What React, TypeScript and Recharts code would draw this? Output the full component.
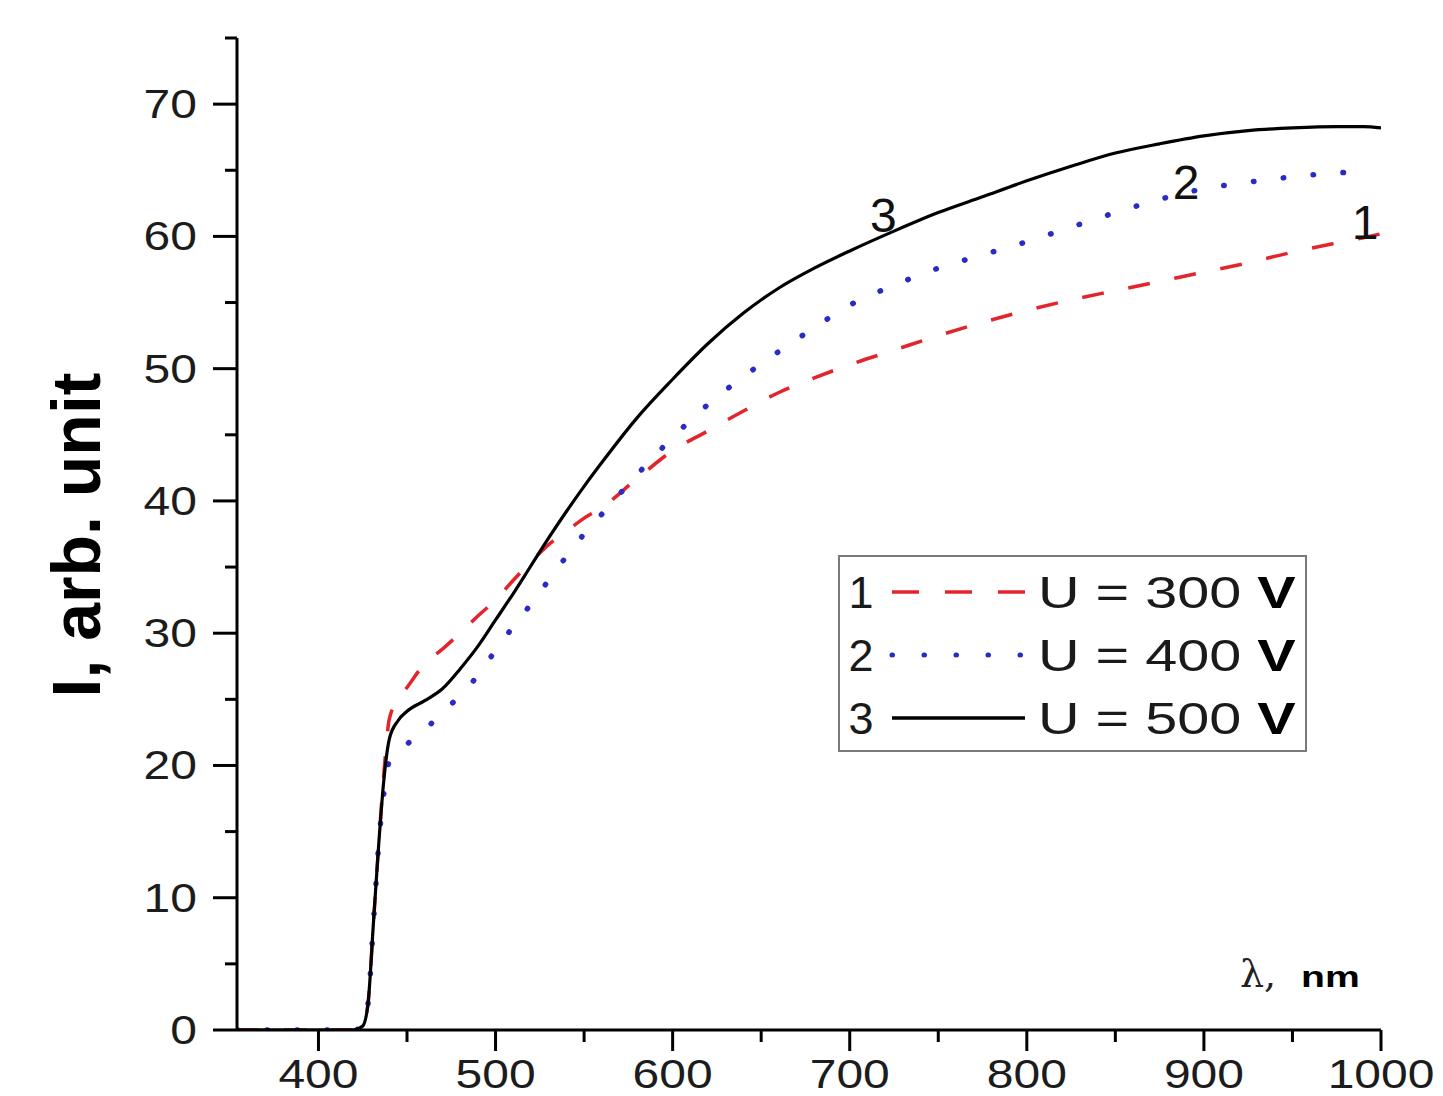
import React from 'react';
import { LineChart, Line, XAxis, YAxis, ReferenceDot } from 'recharts';

// ---- data ----
const wavelengths = [354, 380, 400, 420, 425, 428, 431, 434, 437, 440, 445, 450, 460, 470, 480, 490, 500, 510, 520, 530, 540, 550, 560, 580, 600, 620, 640, 660, 680, 700, 725, 750, 775, 800, 825, 850, 875, 900, 925, 950, 975, 990, 1000];

const series300V = [0, 0, 0, 0, 0.3, 2, 8, 14, 19.5, 23.5, 25, 25.9, 27.7, 28.8, 30, 31.3, 32.5, 34, 35.4, 36.7, 37.7, 38.7, 39.5, 41.7, 43.8, 45.3, 46.8, 48.2, 49.3, 50.3, 51.4, 52.5, 53.5, 54.4, 55.2, 55.9, 56.6, 57.3, 58, 58.8, 59.5, 59.9, 60.2];

const series400V = [0, 0, 0, 0, 0.3, 2, 8, 14, 18, 20.3, 20.9, 21.6, 22.7, 24, 25.3, 26.8, 28.7, 30.5, 32.2, 34, 35.8, 37.5, 39, 42, 44.8, 47.3, 49.4, 51.3, 53.1, 54.8, 56.3, 57.6, 58.6, 59.6, 60.7, 61.8, 62.8, 63.6, 64.1, 64.5, 64.8, 64.9, null];

const series500V = [0, 0, 0, 0, 0.3, 2, 8, 14, 19, 22, 23.4, 24.1, 24.9, 25.8, 27.3, 29, 31, 33, 35.1, 37.2, 39.2, 41.1, 42.9, 46.3, 49.2, 51.9, 54.2, 56.1, 57.6, 58.9, 60.4, 61.8, 63, 64.2, 65.3, 66.3, 67, 67.6, 68, 68.2, 68.3, 68.3, 68.2];

const xTicks = [400, 450, 500, 550, 600, 650, 700, 750, 800, 850, 900, 950, 1000];
const yTicks = [0, 5, 10, 15, 20, 25, 30, 35, 40, 45, 50, 55, 60, 65, 70, 75];

const seriesNumbers = ['1', '2', '3'];
const seriesVoltages = ['U = 300', 'U = 400', 'U = 500'];

// curve annotation labels (data coordinates)
const curveLabelText = ['1', '2', '3'];
const curveLabelX = [991, 890, 719];
const curveLabelY = [61.1, 64.1, 61.6];

const rows = wavelengths.map((w, i) => ({
  w,
  s1: series300V[i],
  s2: series400V[i],
  s3: series500V[i],
}));

const styles = [
  { key: 's1', stroke: '#e3242b', width: 3.5, dash: '22 25', legendDash: '27 26', cap: 'butt' as const },
  { key: 's2', stroke: '#2a2ac4', width: 5.5, dash: '0.5 29.5', legendDash: '0.5 31.5', cap: 'round' as const },
  { key: 's3', stroke: '#000000', width: 3.2, dash: undefined, legendDash: undefined, cap: 'butt' as const },
];

const FONT = '"Liberation Sans", Arial, sans-serif';

const XTick = (props: any) => {
  const { x, y, payload } = props;
  const major = payload.value % 100 === 0;
  return (
    <g>
      <line x1={x} x2={x} y1={y} y2={y + (major ? 21 : 12)} stroke="#000" strokeWidth={3} />
      {major && (
        <text
          transform={`translate(${x},${y + 58}) scale(1.2,1)`}
          textAnchor="middle"
          fontSize={40}
          fontFamily={FONT}
          fill="#1c1c1c"
        >
          {payload.value}
        </text>
      )}
    </g>
  );
};

const YTick = (props: any) => {
  const { x, y, payload } = props;
  const major = payload.value % 10 === 0;
  return (
    <g>
      <line x1={x - (major ? 24 : 12)} x2={x} y1={y} y2={y} stroke="#000" strokeWidth={3} />
      {major && (
        <text
          transform={`translate(${x - 40},${y + 14}) scale(1.2,1)`}
          textAnchor="end"
          fontSize={40}
          fontFamily={FONT}
          fill="#1c1c1c"
        >
          {payload.value}
        </text>
      )}
    </g>
  );
};

const XLabel = (props: any) => {
  const vb = props.viewBox || {};
  const right = (vb.x || 0) + (vb.width || 0);
  const base = (vb.y || 0) - 43;
  return (
    <g>
      <text x={right - 141} y={base} fontSize={38} fontFamily='"DejaVu Serif", "Liberation Serif", serif' fill="#222">
        λ,
      </text>
      <text
        transform={`translate(${right - 80},${base}) scale(1.35,1)`}
        fontSize={29}
        fontWeight="bold"
        fontFamily={FONT}
        fill="#000"
      >
        nm
      </text>
    </g>
  );
};

const YLabel = () => (
  <text
    transform="translate(100,535) rotate(-90)"
    textAnchor="middle"
    fontSize={68}
    fontWeight="bold"
    fontFamily={FONT}
    fill="#000"
  >
    I, arb. unit
  </text>
);

const CurveLabel = (text: string) => (p: any) => (
  <text
    x={p.cx}
    y={p.cy + 17}
    textAnchor="middle"
    fontSize={48}
    fontFamily={FONT}
    fill="#111"
  >
    {text}
  </text>
);

const LegendBox = () => (
  <div
    style={{
      position: 'absolute',
      left: 838,
      top: 555,
      width: 469,
      height: 197,
      boxSizing: 'border-box',
      border: '2px solid #7a7a7a',
      background: '#fff',
    }}
  >
    <svg width={465} height={193} style={{ display: 'block' }}>
      {styles.map((s, i) => {
        const cy = 35 + i * 63;
        return (
          <g key={s.key}>
            <text x={21} y={cy + 16} textAnchor="middle" fontSize={45} fontFamily={FONT} fill="#1a1a1a">
              {seriesNumbers[i]}
            </text>
            <line
              x1={52}
              x2={185}
              y1={cy}
              y2={cy}
              stroke={s.stroke}
              strokeWidth={s.key === 's2' ? 5 : 3.5}
              strokeDasharray={s.legendDash}
              strokeLinecap={s.cap}
            />
            <text
              transform={`translate(198,${cy + 16}) scale(1.28,1)`}
              fontSize={45}
              fontFamily={FONT}
              fill="#1a1a1a"
            >
              {seriesVoltages[i] + ' '}
              <tspan fontWeight="bold" fill="#000">V</tspan>
            </text>
          </g>
        );
      })}
    </svg>
  </div>
);

export default function App() {
  return (
    <div style={{ position: 'absolute', left: 0, top: 0, width: 1443, height: 1096, background: '#fff' }}>
      <LineChart
        width={1443}
        height={1096}
        data={rows}
        margin={{ top: 38, right: 62, left: 0, bottom: 0 }}
      >
        <XAxis
          dataKey="w"
          type="number"
          domain={[354, 1000]}
          ticks={xTicks}
          interval={0}
          allowDataOverflow
          height={66}
          tickSize={0}
          tickMargin={0}
          tickLine={false}
          axisLine={{ stroke: '#000', strokeWidth: 3 }}
          tick={<XTick />}
          label={{ content: <XLabel /> }}
        />
        <YAxis
          type="number"
          domain={[0, 75]}
          ticks={yTicks}
          interval={0}
          allowDataOverflow
          width={237}
          tickSize={0}
          tickMargin={0}
          tickLine={false}
          axisLine={{ stroke: '#000', strokeWidth: 3 }}
          tick={<YTick />}
          label={{ content: <YLabel /> }}
        />
        {styles.map((s) => (
          <Line
            key={s.key}
            type="monotone"
            dataKey={s.key}
            stroke={s.stroke}
            strokeWidth={s.width}
            strokeDasharray={s.dash}
            strokeLinecap={s.cap}
            dot={false}
            activeDot={false}
            connectNulls={false}
            isAnimationActive={false}
          />
        ))}
        {curveLabelText.map((t, i) => (
          <ReferenceDot
            key={t}
            x={curveLabelX[i]}
            y={curveLabelY[i]}
            r={0}
            ifOverflow="visible"
            shape={CurveLabel(t)}
          />
        ))}
      </LineChart>
      <LegendBox />
    </div>
  );
}
